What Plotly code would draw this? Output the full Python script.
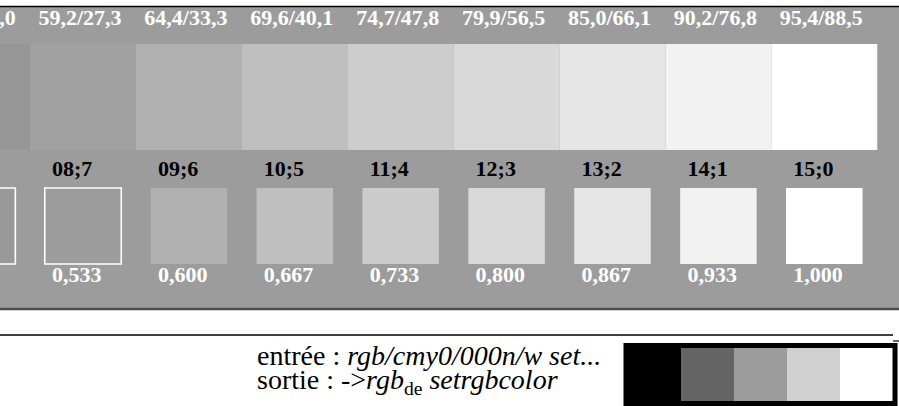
import plotly.graph_objects as go

# ---------------- data ----------------
cols = [-1, 0, 1, 2, 3, 4, 5, 6, 7]
top_labels = ["54,1/21,0", "59,2/27,3", "64,4/33,3", "69,6/40,1", "74,7/47,8",
              "79,9/56,5", "85,0/66,1", "90,2/76,8", "95,4/88,5"]
top_colors = ["#969696", "#a1a1a1", "#b1b1b1", "#bfbfbf", "#cdcdcd",
              "#d9d9d9", "#e6e6e6", "#f2f2f2", "#ffffff"]
code_labels = ["07;8", "08;7", "09;6", "10;5", "11;4", "12;3", "13;2", "14;1", "15;0"]
value_labels = ["0,467", "0,533", "0,600", "0,667", "0,733", "0,800", "0,867", "0,933", "1,000"]
square_colors = ["#999999", "#9c9c9c", "#b1b1b1", "#bfbfbf", "#cccccc",
                 "#d9d9d9", "#e6e6e6", "#f2f2f2", "#ffffff"]
square_outlined = [True, True, False, False, False, False, False, False, False]
legend_colors = ["#000000", "#646464", "#9c9c9c", "#d0d0d0", "#ffffff"]
line1_plain = "entrée : "
line1_ital = "rgb/cmy0/000n/w set..."
line2_plain = "sortie : ->"

# ---------------- layout constants ----------------
W, H = 899, 406
C0, STEP = 83.0, 105.9           # pixel centre of column 0, column pitch
BG = "#9c9c9c"
SERIF = "Liberation Serif"
SW_TOP, SW_H = 44, 106
SQ_TOP, SQ_H, SQ_W = 188, 76, 76.5
LBL_OFF = 31                     # px left of column centre where labels start
TOP_OFF = 3                      # px left shift of the top labels

xr = [(0 - C0) / STEP, (W - C0) / STEP]

fig = go.Figure()

# top swatches
fig.add_trace(go.Bar(x=cols, y=[SW_H] * len(cols), base=SW_TOP, width=1.0,
                     marker=dict(color=top_colors, line=dict(width=0)),
                     hoverinfo="skip", showlegend=False))
# lower squares
fig.add_trace(go.Bar(x=cols, y=[SQ_H] * len(cols), base=SQ_TOP, width=SQ_W / STEP,
                     marker=dict(color=square_colors,
                                 line=dict(color="white",
                                           width=[1.6 if o else 0 for o in square_outlined])),
                     hoverinfo="skip", showlegend=False))

# top labels
tx = [c - TOP_OFF / STEP for c in cols]
fig.add_trace(go.Scatter(x=tx, y=[19] * len(cols), mode="text", text=top_labels,
                         textfont=dict(family=SERIF, size=22, color="white", weight="bold"),
                         hoverinfo="skip", showlegend=False))

# code labels and value labels (left aligned)
lx = [c - LBL_OFF / STEP for c in cols]
fig.add_trace(go.Scatter(x=lx, y=[170] * len(cols), mode="text", text=code_labels,
                         textposition="middle right",
                         textfont=dict(family=SERIF, size=22, color="black", weight="bold"),
                         hoverinfo="skip", showlegend=False))
fig.add_trace(go.Scatter(x=lx, y=[276] * len(cols), mode="text", text=value_labels,
                         textposition="middle right",
                         textfont=dict(family=SERIF, size=22, color="white", weight="bold"),
                         hoverinfo="skip", showlegend=False))

# legend strip (second axes)
fig.add_trace(go.Bar(x=list(range(len(legend_colors))), y=[1] * len(legend_colors),
                     width=1.0, marker=dict(color=legend_colors, line=dict(width=0)),
                     xaxis="x2", yaxis="y2", hoverinfo="skip", showlegend=False))

shapes = [
    dict(type="rect", xref="paper", yref="y", x0=0, x1=1, y0=7, y1=308,
         fillcolor=BG, line=dict(width=0), layer="below"),
    dict(type="line", xref="paper", yref="y", x0=0, x1=1, y0=6.5, y1=6.5,
         line=dict(color="black", width=1.5)),
    dict(type="line", xref="paper", yref="y", x0=0, x1=1, y0=309, y1=309,
         line=dict(color="#4d4d4d", width=2.6)),
    dict(type="line", xref="paper", yref="y", x0=0, x1=893 / W, y0=335, y1=335,
         line=dict(color="black", width=1.5)),
    dict(type="line", xref="paper", yref="y", x0=893 / W, x1=1, y0=341, y1=341,
         line=dict(color="black", width=1.2)),
    dict(type="rect", xref="paper", yref="paper",
         x0=626 / W, x1=895 / W, y0=(H - 403.5) / H, y1=(H - 345.5) / H,
         line=dict(color="black", width=5), fillcolor="rgba(0,0,0,0)"),
]

annotations = [
    dict(xref="paper", yref="y", x=255 / W, y=355, xanchor="left", yanchor="middle",
         showarrow=False, align="left",
         text=line1_plain + "<i>" + line1_ital + "</i>",
         font=dict(family=SERIF, size=28, color="black")),
    dict(xref="paper", yref="y", x=255 / W, y=381, xanchor="left", yanchor="middle",
         showarrow=False, align="left",
         text=line2_plain + "<i>rgb</i><sub>de</sub> <i>setrgbcolor</i>",
         font=dict(family=SERIF, size=28, color="black")),
]

fig.update_layout(
    width=W, height=H, margin=dict(l=0, r=0, t=0, b=0),
    paper_bgcolor="white", plot_bgcolor="rgba(0,0,0,0)",
    barmode="overlay", showlegend=False,
    xaxis=dict(range=xr, visible=False, fixedrange=True, domain=[0, 1]),
    yaxis=dict(range=[H, 0], visible=False, fixedrange=True, domain=[0, 1]),
    xaxis2=dict(range=[-0.5, len(legend_colors) - 0.5], visible=False, fixedrange=True,
                domain=[628 / W, 893 / W], anchor="y2"),
    yaxis2=dict(range=[0, 1], visible=False, fixedrange=True,
                domain=[(H - 401) / H, (H - 348) / H], anchor="x2"),
    shapes=shapes, annotations=annotations,
)

fig.write_html("out.html", config={"displayModeBar": False},
               post_script="document.body.style.margin='0';document.body.style.overflow='hidden';")
